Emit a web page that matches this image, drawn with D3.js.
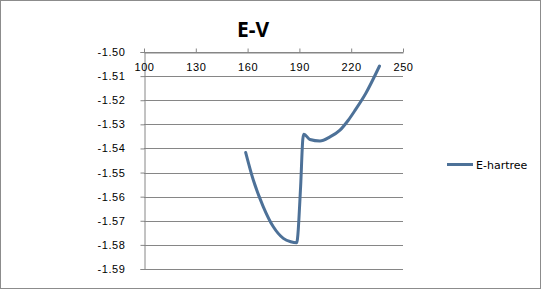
<!DOCTYPE html>
<html>
<head>
<meta charset="utf-8">
<script src="https://cdn.jsdelivr.net/npm/d3@7/dist/d3.min.js"></script>
<style>
  body { margin: 0; background: #fff; }
  svg { display: block; font-family: "DejaVu Sans", Verdana, sans-serif; }
</style>
</head>
<body>
<svg id="chart" width="541" height="289"></svg>
<script>
const titleText = "E-V";
const seriesName = "E-hartree";
// volume readings and energies (hartree)
const volume = [158.9, 163.3, 169.1, 174.9, 180.7, 185.0, 188.4, 190.7, 192.0, 192.6, 196.1, 201.9, 207.7, 213.5, 218.3, 222.4, 228.4, 236.4];
const energy = [-1.5417, -1.5531, -1.5642, -1.5725, -1.5773, -1.5787, -1.5791, -1.5559, -1.5360, -1.5341, -1.5363, -1.5369, -1.5352, -1.5324, -1.5283, -1.5240, -1.5172, -1.5058];
const xTicks = [100, 130, 160, 190, 220, 250];
const yTicks = [-1.50, -1.51, -1.52, -1.53, -1.54, -1.55, -1.56, -1.57, -1.58, -1.59];

const PLOT = { left: 144, right: 403, top: 52, bottom: 269 };
const GRID = "#868686";
const LINE = "#4d7198";

const svg = d3.select("#chart");

// outer chart border
svg.append("rect")
  .attr("x", 0.5).attr("y", 0.5)
  .attr("width", 540).attr("height", 288)
  .attr("fill", "#fff")
  .attr("stroke", "#8c8c8c");

const x = d3.scaleLinear().domain([100, 250]).range([PLOT.left, PLOT.right]);
const y = d3.scaleLinear().domain([-1.50, -1.59]).range([PLOT.top, PLOT.bottom]);

// horizontal gridlines
svg.append("g")
  .selectAll("line")
  .data(yTicks)
  .enter().append("line")
  .attr("x1", PLOT.left).attr("x2", PLOT.right)
  .attr("y1", d => Math.round(y(d)) + 0.5)
  .attr("y2", d => Math.round(y(d)) + 0.5)
  .attr("stroke", GRID);

// y axis
const yAxis = svg.append("g")
  .attr("transform", `translate(${PLOT.left + 0.5},0)`)
  .call(d3.axisLeft(y).tickValues(yTicks).tickSize(4).tickPadding(15).tickFormat(d3.format(".2f")));
yAxis.select(".domain").attr("stroke", GRID);
yAxis.selectAll(".tick line").attr("stroke", GRID);
yAxis.selectAll(".tick text")
  .attr("fill", "#000")
  .style("font-size", "11px")
  .style("letter-spacing", "0.6px")
  .text(d => d3.format(".2f")(d).replace("−", "-"));

// x axis at top, labels below the line
const xAxis = svg.append("g")
  .attr("transform", `translate(0,${Math.round(y(-1.50)) + 0.5})`)
  .call(d3.axisTop(x).tickValues(xTicks).tickSize(4).tickSizeOuter(0));
xAxis.select(".domain").attr("stroke", GRID);
xAxis.selectAll(".tick line").attr("stroke", GRID);
xAxis.selectAll(".tick text")
  .attr("fill", "#000")
  .attr("y", 18)
  .attr("dy", 0)
  .style("font-size", "11px")
  .style("letter-spacing", "0.6px");

// series line
const pts = volume.map((v, i) => [v, energy[i]]);
svg.append("path")
  .datum(pts)
  .attr("fill", "none")
  .attr("stroke", LINE)
  .attr("stroke-width", 3)
  .attr("stroke-linecap", "round")
  .attr("stroke-linejoin", "round")
  .attr("d", d3.line().x(d => x(d[0])).y(d => y(d[1])).curve(d3.curveMonotoneX));

// title
svg.append("text")
  .attr("x", 253).attr("y", 37)
  .attr("text-anchor", "middle")
  .style("font-size", "21px")
  .style("font-weight", "bold")
  .style("font-family", "'Open Sans', 'DejaVu Sans', sans-serif")
  .text(titleText);

// legend
svg.append("line")
  .attr("x1", 447).attr("x2", 473)
  .attr("y1", 164.5).attr("y2", 164.5)
  .attr("stroke", LINE)
  .attr("stroke-width", 3);
svg.append("text")
  .attr("x", 476).attr("y", 168.5)
  .style("font-size", "11px")
  .text(seriesName);
</script>
</body>
</html>
